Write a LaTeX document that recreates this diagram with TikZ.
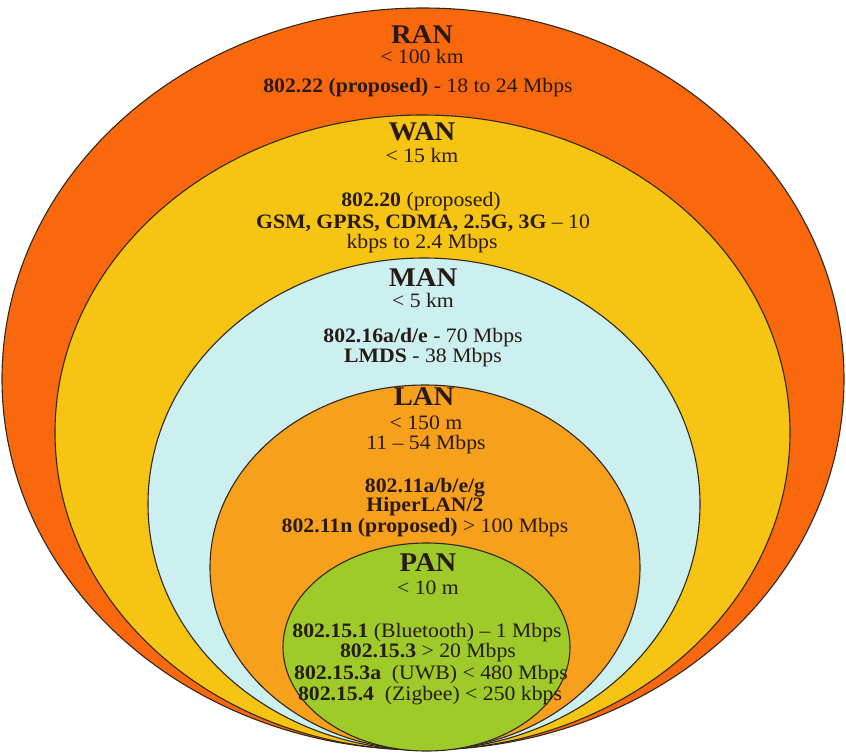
\documentclass[tikz,border=0pt]{standalone}
\usepackage{fontspec}
\setmainfont{Liberation Serif}[FakeStretch=1.06]
\usetikzlibrary{shapes.geometric}
\definecolor{ranc}{RGB}{250,104,14}
\definecolor{wanc}{RGB}{246,196,18}
\definecolor{manc}{RGB}{204,239,240}
\definecolor{lanc}{RGB}{246,160,28}
\definecolor{panc}{RGB}{158,202,42}
\definecolor{ink}{RGB}{40,26,20}
\definecolor{edge}{RGB}{50,40,30}
\tikzset{
  zone/.style={ellipse, draw=edge, line width=1.1pt, inner sep=0pt},
  ttl/.style={text=ink, font=\fontsize{27}{28}\selectfont\bfseries, inner sep=0pt, text height=18pt, text depth=1pt},
  txt/.style={text=ink, font=\fontsize{20.5}{21}\selectfont, inner sep=0pt, text height=13.5pt, text depth=3.5pt},
}
\begin{document}
\begin{tikzpicture}[x=1pt,y=-1pt]
\useasboundingbox (0,0) rectangle (846,753);
\fill[white] (0,0) rectangle (846,753);
% zones
\node[zone, fill=ranc, minimum width=842pt, minimum height=742pt] (ran) at (423,379) {};
\node[zone, fill=wanc, minimum width=735pt, minimum height=635pt] (wan) at (422.5,432.5) {};
\node[zone, fill=manc, minimum width=552pt, minimum height=492pt] (man) at (424,504) {};
\node[zone, fill=lanc, minimum width=430pt, minimum height=365pt] (lan) at (425,567.5) {};
\node[zone, fill=panc, minimum width=287pt, minimum height=208pt] (pan) at (426.5,647) {};
% RAN
\node[ttl] (ranT) at (422,35) {RAN};
\node[txt] (ranR) at (422,58) {< 100 km};
\node[txt] (ranB) at (418,87) {\textbf{802.22 (proposed)} - 18 to 24 Mbps};
% WAN
\node[ttl] (wanT) at (422,132) {WAN};
\node[txt] (wanR) at (422,157) {< 15 km};
\node[txt] (wanB1) at (421,201) {\textbf{802.20} (proposed)};
\node[txt] (wanB2) at (423,223) {\textbf{GSM, GPRS, CDMA, 2.5G, 3G} -- 10};
\node[txt] (wanB3) at (422,243) {kbps to 2.4 Mbps};
% MAN
\node[ttl] (manT) at (423,278) {MAN};
\node[txt] (manR) at (423,302) {< 5 km};
\node[txt] (manB1) at (423,337) {\textbf{802.16a/d/e} - 70 Mbps};
\node[txt] (manB2) at (423,357) {\textbf{LMDS} - 38 Mbps};
% LAN
\node[ttl] (lanT) at (424,397) {LAN};
\node[txt] (lanR) at (426,424) {< 150 m};
\node[txt] (lanS) at (426,444) {11 -- 54 Mbps};
\node[txt] (lanB1) at (425,487) {\textbf{802.11a/b/e/g}};
\node[txt] (lanB2) at (425,506) {\textbf{HiperLAN/2}};
\node[txt] (lanB3) at (425,527) {\textbf{802.11n (proposed)} > 100 Mbps};
% PAN
\node[ttl] (panT) at (428,563) {PAN};
\node[txt] (panR) at (428,589) {< 10 m};
\node[txt] (panB1) at (427,632) {\textbf{802.15.1} (Bluetooth) -- 1 Mbps};
\node[txt] (panB2) at (428,652) {\textbf{802.15.3} > 20 Mbps};
\node[txt] (panB3) at (431,674) {\textbf{802.15.3a}\ \ (UWB) < 480 Mbps};
\node[txt] (panB4) at (430,695) {\textbf{802.15.4}\ \ (Zigbee) < 250 kbps};
\end{tikzpicture}
\end{document}
